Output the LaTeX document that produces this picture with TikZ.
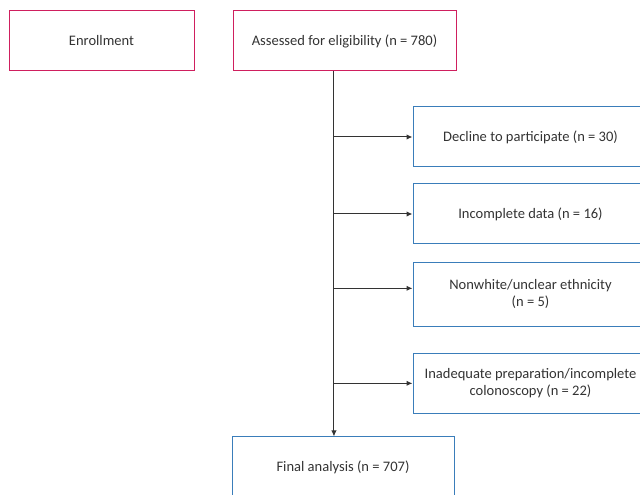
\documentclass[tikz,border=0pt]{standalone}
\usepackage{fontspec}
\setmainfont{Carlito}
\usepackage{tikz}
\usetikzlibrary{arrows.meta,positioning}
\definecolor{pinkrule}{HTML}{CF1F5E}
\definecolor{bluerule}{HTML}{3A7DBA}
\definecolor{inkgrey}{HTML}{333333}

\begin{document}
\begin{tikzpicture}[x=0.75pt,y=-0.75pt,
      node distance=28.5pt,
      stage/.style={draw=pinkrule,line width=0.75pt,minimum height=45pt,
                    inner sep=3pt,align=center,text=inkgrey,
                    font=\fontsize{10.9}{12.75}\selectfont},
      dropbox/.style={draw=bluerule,line width=0.75pt,minimum width=176.25pt,
                      minimum height=45pt,inner sep=3pt,align=center,
                      text=inkgrey,font=\fontsize{10.9}{12.75}\selectfont},
      feed/.style={-{Latex[length=4.5pt,width=4pt]},color=inkgrey,line width=0.75pt}]
    \useasboundingbox (0,0) rectangle (640,495);
    \node[stage,minimum width=138.75pt] (enroll) at (101.5,41) {Enrollment};
    \node[stage,minimum width=167.25pt,right=of enroll] (assess)
      {Assessed for eligibility (n = 780)};
    \node[dropbox] (decline) at (530.5,137) {Decline to participate (n = 30)};
    \node[dropbox,below=12pt of decline] (incomp) {Incomplete data (n = 16)};
    \node[dropbox,below=13pt of incomp,minimum height=48pt] (ethnic)
      {Nonwhite/unclear ethnicity\\(n = 5)};
    \node[dropbox,below=19.5pt of ethnic] (prep)
      {Inadequate preparation/incomplete\\colonoscopy (n = 22)};
    \node[dropbox,minimum width=166.5pt] (final) at (343,467)
      {Final analysis (n = 707)};
    % trunk from the eligibility box down to the final box
    \coordinate (trunk) at ([xshift=-7.9pt]assess.south);
    \coordinate (ethnicin) at ([yshift=4.5pt]ethnic.west);
    \draw[feed] (trunk) -- (trunk |- final.north);
    \draw[feed] (trunk |- decline.west) -- (decline.west);
    \draw[feed] (trunk |- incomp.west) -- (incomp.west);
    \draw[feed] (trunk |- ethnicin) -- (ethnicin);
    \draw[feed] (trunk |- prep.west) -- (prep.west);
  \end{tikzpicture}
\end{document}
